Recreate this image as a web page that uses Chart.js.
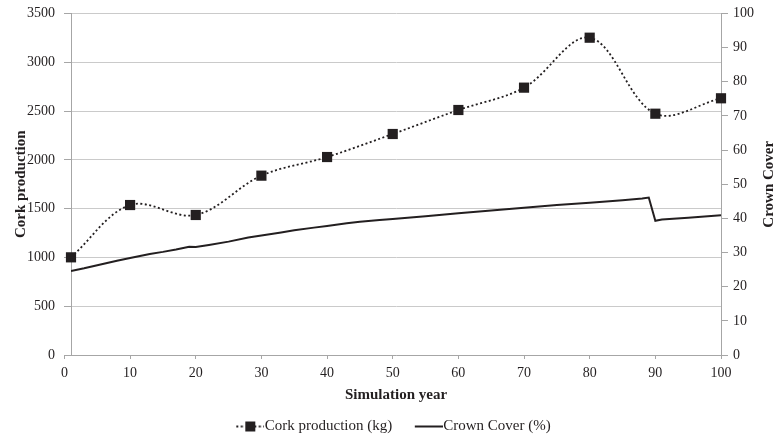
<!DOCTYPE html>
<html>
<head>
<meta charset="utf-8">
<script src="https://cdn.jsdelivr.net/npm/chart.js@4.4.1/dist/chart.umd.min.js"></script>
<style>
html, body { margin: 0; padding: 0; background: #fff; }
#wrap { width: 773px; height: 437px; }
</style>
</head>
<body>
<div id="wrap"><canvas id="corkChart"></canvas></div>
<script>
// cork production (kg), one value every 10 years
const corkYears = [1, 10, 20, 30, 40, 50, 60, 70, 80, 90, 100];
const corkProduction = [1001, 1537, 1435, 1838, 2029, 2265, 2511, 2740, 3252, 2473, 2631];

// crown cover (%)
const crownYears = [1, 3, 5, 8, 10, 13, 15, 17, 19, 20, 22, 25, 28, 30, 33, 35, 38, 40, 43, 45, 48, 50,
                    55, 60, 65, 70, 75, 80, 85, 88, 89, 90, 91, 95, 100];
const crownCover = [24.6, 25.4, 26.3, 27.6, 28.4, 29.6, 30.2, 30.9, 31.7, 31.6, 32.2, 33.2, 34.4, 35.0, 35.9, 36.5, 37.3, 37.8, 38.6, 39.0, 39.5, 39.8,
                    40.6, 41.5, 42.3, 43.1, 43.9, 44.6, 45.3, 45.8, 46.1, 39.3, 39.7, 40.2, 40.9];

const yearTicks = [0, 10, 20, 30, 40, 50, 60, 70, 80, 90, 100];
const corkTicks = [0, 500, 1000, 1500, 2000, 2500, 3000, 3500];
const crownTicks = [0, 10, 20, 30, 40, 50, 60, 70, 80, 90, 100];

const ink = '#231f20';
const axisGrey = '#a6a6a6';
const gridGrey = '#cacaca';

Chart.defaults.font.family = '"Liberation Serif", "Times New Roman", serif';
Chart.defaults.font.size = 14;
Chart.defaults.color = ink;

function legendIcon(kind) {
    const c = document.createElement('canvas');
    c.width = 35;
    c.height = 14;
    const g = c.getContext('2d');
    g.strokeStyle = ink;
    g.lineWidth = 2;
    if (kind === 'cork') g.setLineDash([2, 2.5]);
    g.beginPath();
    g.moveTo(7, 7);
    g.lineTo(35, 7);
    g.stroke();
    if (kind === 'cork') {
        g.fillStyle = ink;
        g.fillRect(16, 2, 10, 10);
    }
    return c;
}

const corkIcon = legendIcon('cork');
const crownIcon = legendIcon('crown');

// the right title reads bottom-to-top in the original, so draw it here
const rightTitle = {
    id: 'rightTitle',
    afterDraw(chart) {
        const ctx = chart.ctx;
        const area = chart.chartArea;
        ctx.save();
        ctx.translate(chart.width - 4, (area.top + area.bottom) / 2);
        ctx.rotate(-Math.PI / 2);
        ctx.font = 'bold 15px "Liberation Serif", serif';
        ctx.fillStyle = ink;
        ctx.textAlign = 'center';
        ctx.textBaseline = 'middle';
        ctx.fillText('Crown Cover', 0, 0);
        ctx.restore();
    }
};

const plain = v => String(v);

// fixed axis sizes; drop the label overhang so the plot fills the frame like the original
const fitY = w => s => { s.width = w; s.paddingTop = 0; s.paddingBottom = 0; };

new Chart(document.getElementById('corkChart'), {
    type: 'line',
    data: {
        datasets: [{
            label: 'Cork production (kg)',
            data: corkYears.map((x, i) => ({x: x, y: corkProduction[i]})),
            yAxisID: 'yCork',
            borderColor: ink,
            borderWidth: 1.8,
            borderDash: [2, 2.5],
            tension: 0.35,
            pointStyle: 'rect',
            pointRadius: 7.2,
            pointBackgroundColor: ink,
            pointBorderWidth: 0,
            clip: false,
            order: 0
        }, {
            label: 'Crown Cover (%)',
            data: crownYears.map((x, i) => ({x: x, y: crownCover[i]})),
            yAxisID: 'yCrown',
            borderColor: ink,
            borderWidth: 2,
            tension: 0,
            pointRadius: 0,
            order: 1
        }]
    },
    options: {
        responsive: true,
        maintainAspectRatio: false,
        animation: false,
        layout: {padding: {top: 13.5, right: 0, bottom: -7, left: 14}},
        plugins: {
            tooltip: {enabled: false},
            legend: {
                position: 'bottom',
                labels: {
                    usePointStyle: true,
                    pointStyleWidth: 21,
                    padding: 0,
                    font: {size: 15},
                    generateLabels: () => [
                        {text: 'Cork production (kg)      ', pointStyle: corkIcon, datasetIndex: 0,
                         fillStyle: ink, strokeStyle: ink, lineWidth: 0, hidden: false, fontColor: ink},
                        {text: 'Crown Cover (%)', pointStyle: crownIcon, datasetIndex: 1,
                         fillStyle: ink, strokeStyle: ink, lineWidth: 0, hidden: false, fontColor: ink}
                    ]
                }
            }
        },
        scales: {
            x: {
                type: 'linear',
                min: 1,
                max: 100,
                afterBuildTicks: s => { s.ticks = yearTicks.map(v => ({value: v})); },
                afterFit: s => { s.height = 64; },
                border: {color: axisGrey, width: 1},
                grid: {drawOnChartArea: false, drawTicks: true, tickLength: 4, tickColor: axisGrey},
                ticks: {padding: 6, maxRotation: 0, autoSkip: false, callback: plain},
                title: {display: true, text: 'Simulation year', font: {size: 15, weight: 'bold'},
                        padding: {top: 0, bottom: 15}}
            },
            yCork: {
                type: 'linear',
                position: 'left',
                min: 0,
                max: 3500,
                afterBuildTicks: s => { s.ticks = corkTicks.map(v => ({value: v})); },
                afterFit: fitY(57),
                border: {color: axisGrey, width: 1},
                grid: {color: gridGrey, lineWidth: 1, tickLength: 7, tickColor: axisGrey},
                ticks: {padding: 9, callback: plain},
                title: {display: true, text: 'Cork production', font: {size: 15, weight: 'bold'},
                        padding: {top: -2, bottom: 0}}
            },
            yCrown: {
                type: 'linear',
                position: 'right',
                min: 0,
                max: 100,
                afterBuildTicks: s => { s.ticks = crownTicks.map(v => ({value: v})); },
                afterFit: fitY(52),
                border: {color: axisGrey, width: 1},
                grid: {drawOnChartArea: false, tickLength: 7, tickColor: axisGrey},
                ticks: {padding: 5, callback: plain}
            }
        }
    },
    plugins: [rightTitle]
});
</script>
</body>
</html>
